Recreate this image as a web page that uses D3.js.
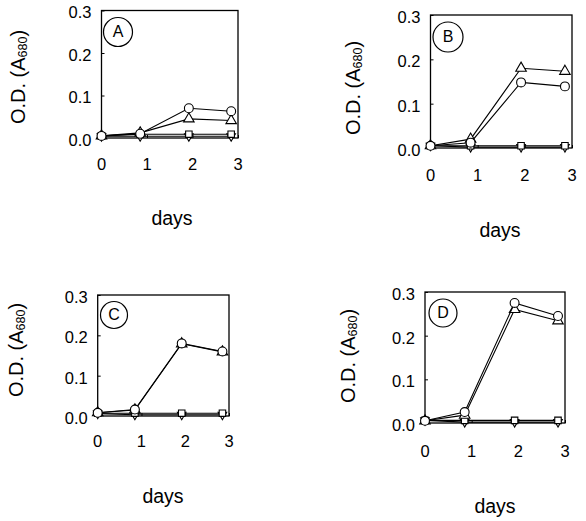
<!DOCTYPE html>
<html><head><meta charset="utf-8">
<script src="https://cdn.jsdelivr.net/npm/d3@7/dist/d3.min.js"></script>
<style>body{margin:0;background:#fff}svg{display:block}text{font-family:"Liberation Sans",Arial,sans-serif;fill:#000}</style>
</head><body>
<svg id="c" width="586" height="521"></svg>
<script>
const days = [0, 0.85, 1.92, 2.85];
const xTicks = [0, 1, 2, 3];
const yTicks = [0.0, 0.1, 0.2, 0.3];
const yTickLabels = ["0.0", "0.1", "0.2", "0.3"];
const panelNames = ["A", "B", "C", "D"];
const circleValues = [
  [0.005, 0.010, 0.070, 0.063],
  [0.005, 0.012, 0.148, 0.139],
  [0.008, 0.016, 0.180, 0.160],
  [0.005, 0.025, 0.275, 0.245]
];
const triangleValues = [
  [0.005, 0.012, 0.045, 0.041],
  [0.005, 0.020, 0.180, 0.173],
  [0.008, 0.015, 0.179, 0.159],
  [0.005, 0.018, 0.260, 0.234]
];
const squareValues = [
  [0.005, 0.009, 0.009, 0.009],
  [0.005, 0.005, 0.005, 0.005],
  [0.007, 0.007, 0.007, 0.007],
  [0.006, 0.006, 0.006, 0.006]
];
const invTriangleValues = [
  [0.004, 0.004, 0.004, 0.004],
  [0.005, 0.002, 0.002, 0.002],
  [0.006, 0.003, 0.003, 0.003],
  [0.006, 0.002, 0.002, 0.002]
];

// layout (pixel boxes of each panel)
const layout = [
  {x0:101.5, x1:238, y0:138, y1:10.5, titleX:20, titleY:77, daysX:172, daysY:220, lab:[118,32,14.5], xlabY:166},
  {x0:430.5, x1:572, y0:148, y1:15, titleX:355, titleY:88, daysX:500, daysY:232, lab:[448,37,15], xlabY:177},
  {x0:97.7, x1:229, y0:416, y1:295, titleX:18, titleY:350, daysX:163, daysY:498, lab:[114,315,13.5], xlabY:443},
  {x0:425, x1:565, y0:423, y1:292, titleX:350, titleY:356, daysX:495, daysY:508, lab:[443,313,14], xlabY:453}
];

const svg = d3.select("#c");
const sym = {
  circle: d3.symbol().type(d3.symbolCircle).size(62),
  triangle: d3.symbol().type(d3.symbolTriangle).size(48),
  square: d3.symbol().type(d3.symbolSquare).size(42),
  inv: d3.symbol().type(d3.symbolTriangle).size(32)
};

layout.forEach((L, i) => {
  const x = d3.scaleLinear().domain([0, 3]).range([L.x0, L.x1]);
  const y = d3.scaleLinear().domain([0, 0.3]).range([L.y0, L.y1]);
  const g = svg.append("g");

  // frame
  g.append("rect").attr("x", L.x0).attr("y", L.y1)
    .attr("width", L.x1 - L.x0).attr("height", L.y0 - L.y1)
    .attr("fill", "none").attr("stroke", "#000").attr("stroke-width", 1.3);

  // inward ticks via axes
  const ya = g.append("g").attr("transform", `translate(${L.x0},0)`)
    .call(d3.axisRight(y).tickValues(yTicks).tickSize(3).tickFormat(""));
  ya.select(".domain").remove();
  const xa = g.append("g").attr("transform", `translate(0,${L.y0})`)
    .call(d3.axisTop(x).tickValues(xTicks).tickSize(3).tickFormat(""));
  xa.select(".domain").remove();

  // tick labels
  g.selectAll(".yl").data(yTicks).join("text")
    .attr("x", L.x0 - 10).attr("y", (d) => y(d) + 3.5)
    .attr("text-anchor", "end").attr("dominant-baseline", "middle")
    .attr("font-size", 16.5).text((d, k) => yTickLabels[k]);
  g.selectAll(".xl").data(xTicks).join("text")
    .attr("x", d => x(d)).attr("y", L.xlabY)
    .attr("text-anchor", "middle").attr("dominant-baseline", "middle")
    .attr("font-size", 16.5).text(d => d);

  // axis titles
  const t = g.append("text").attr("transform", `translate(${L.titleX},${L.titleY}) rotate(-90)`)
    .attr("text-anchor", "middle").attr("dominant-baseline", "middle").attr("font-size", 20);
  t.append("tspan").text("O.D. (A");
  t.append("tspan").attr("font-size", 12.5).attr("dy", 4).text("680");
  t.append("tspan").attr("dy", -4).text(")");
  g.append("text").attr("x", L.daysX).attr("y", L.daysY)
    .attr("text-anchor", "middle").attr("dominant-baseline", "middle")
    .attr("font-size", 19.5).text("days");

  // panel letter
  g.append("circle").attr("cx", L.lab[0]).attr("cy", L.lab[1]).attr("r", L.lab[2])
    .attr("fill", "none").attr("stroke", "#000").attr("stroke-width", 1.2);
  g.append("text").attr("x", L.lab[0]).attr("y", L.lab[1] + 1)
    .attr("text-anchor", "middle").attr("dominant-baseline", "middle")
    .attr("font-size", 16).text(panelNames[i]);

  const line = d3.line().x((d, k) => x(days[k])).y(d => y(d));
  const series = [
    {v: invTriangleValues[i], s: sym.inv, rot: 180},
    {v: squareValues[i], s: sym.square, rot: 0},
    {v: triangleValues[i], s: sym.triangle, rot: 0},
    {v: circleValues[i], s: sym.circle, rot: 0}
  ];
  series.forEach(S => {
    g.append("path").datum(S.v).attr("d", line)
      .attr("fill", "none").attr("stroke", "#000").attr("stroke-width", 1.1);
    g.selectAll(null).data(S.v).join("path")
      .attr("d", S.s)
      .attr("transform", (d, k) => `translate(${x(days[k])},${y(d)}) rotate(${S.rot})`)
      .attr("fill", "#fff").attr("stroke", "#000").attr("stroke-width", 1.1);
  });
});
</script>
</body></html>
